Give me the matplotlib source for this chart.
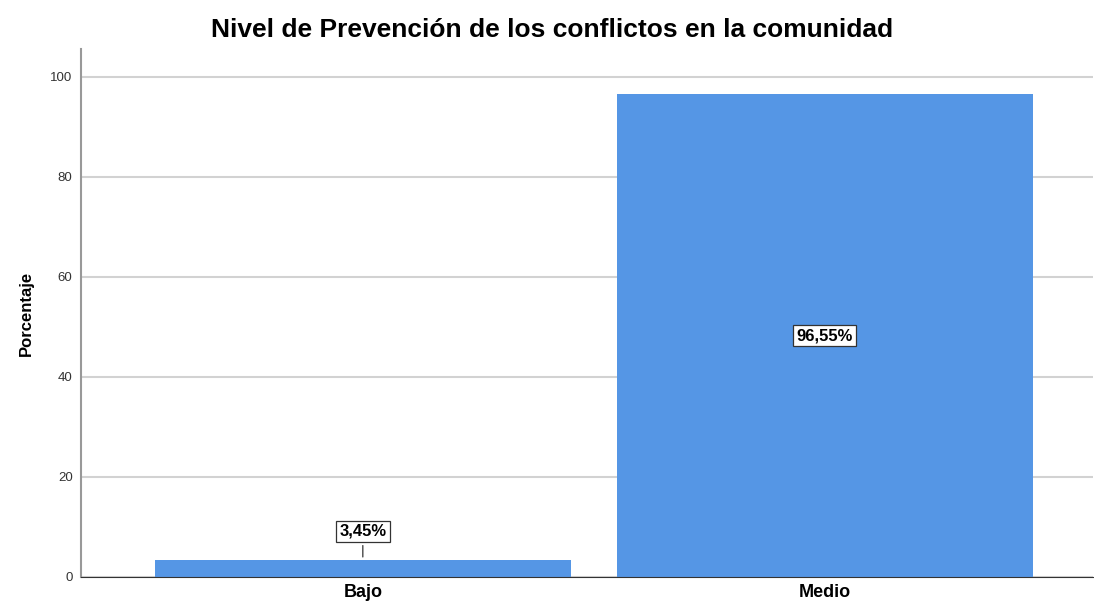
import matplotlib.pyplot as plt

categorias = ["Bajo", "Medio"]
porcentajes = [3.45, 96.55]
etiquetas = ["3,45%", "96,55%"]
y_ticks = [0, 20, 40, 60, 80, 100]

plt.rcParams['font.family'] = ['Liberation Sans', 'DejaVu Sans']

fig = plt.figure(figsize=(10.94, 6.08), dpi=100)
ax = fig.add_axes([0.074, 0.051, 0.925, 0.868])

x = list(range(len(categorias)))
ax.bar(x, porcentajes, width=0.9, color='#5596E5', zorder=2)

ax.set_xlim(-0.61, 1.58)
ax.set_ylim(0, 105.5)
ax.set_yticks(y_ticks)
ax.set_xticks(x)
ax.set_xticklabels(categorias, fontsize=13, fontweight='bold')
ax.tick_params(axis='y', length=0, labelsize=9.5, labelcolor='#333333', pad=6)
ax.tick_params(axis='x', length=0, pad=5)
ax.yaxis.grid(True, color='#d2d2d2', linewidth=1.5, zorder=0)
ax.set_axisbelow(True)

for s in ['top', 'right']:
    ax.spines[s].set_visible(False)
ax.spines['left'].set_color('#999999')
ax.spines['left'].set_linewidth(1.5)
ax.spines['bottom'].set_color('#333333')

ax.set_ylabel("Porcentaje", fontsize=12, fontweight='bold', labelpad=12)
fig.text(0.505, 0.95, "Nivel de Prevención de los conflictos en la comunidad",
         fontsize=19, fontweight='bold', ha='center', va='center')

fuente = ['Liberation Sans Narrow', 'Liberation Sans', 'DejaVu Sans']
bbox = dict(boxstyle='square,pad=0.2', fc='white', ec='#333333', lw=0.9)
# etiqueta pequeña arriba con línea, la grande en el centro de la barra
ax.annotate(etiquetas[0], xy=(x[0], porcentajes[0]), xytext=(x[0], 9.1),
            ha='center', va='center', fontsize=12, fontweight='bold',
            family=fuente, bbox=bbox,
            arrowprops=dict(arrowstyle='-', color='#333333', lw=0.9))
ax.text(x[1], porcentajes[1] / 2, etiquetas[1], ha='center', va='center',
        fontsize=12, fontweight='bold', family=fuente, bbox=bbox)

fig.savefig("out.png", dpi=100)
